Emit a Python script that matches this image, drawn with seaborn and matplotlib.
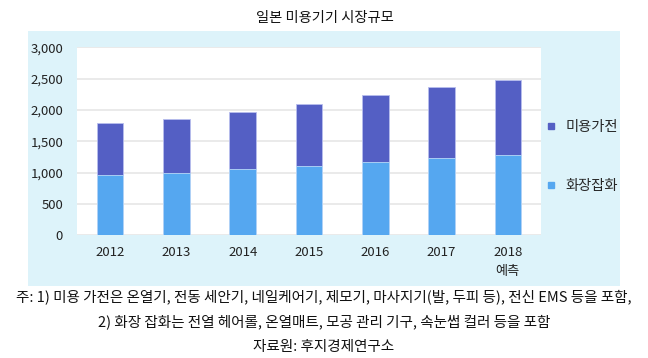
import matplotlib
matplotlib.use("Agg")
import matplotlib.pyplot as plt
from matplotlib.lines import Line2D
from matplotlib.patches import Rectangle
import seaborn as sns
import pandas as pd

years = ["2012", "2013", "2014", "2015", "2016", "2017", "2018"]
tick_labels = ["2012", "2013", "2014", "2015", "2016", "2017", "2018\n예측"]
cosmetics = [960, 1000, 1065, 1105, 1165, 1240, 1280]      # 화장잡화
appliances = [830, 860, 905, 995, 1075, 1130, 1200]        # 미용가전
series_names = ["미용가전", "화장잡화"]
title = "일본 미용기기 시장규모"
notes = [
    "주: 1) 미용 가전은 온열기, 전동 세안기, 네일케어기, 제모기, 마사지기(발, 두피 등), 전신 EMS 등을 포함,",
    "2) 화장 잡화는 전열 헤어롤, 온열매트, 모공 관리 기구, 속눈썹 컬러 등을 포함",
    "자료원: 후지경제연구소",
]

sns.set_style("white")
plt.rcParams["font.family"] = ["Noto Sans CJK KR", "DejaVu Sans"]

totals = [c + a for c, a in zip(cosmetics, appliances)]
df = pd.DataFrame({"year": years, "total": totals, "lower": cosmetics})

dark = "#545FC4"
light = "#55A7F0"
bg = "#DDF3FA"

fig = plt.figure(figsize=(6.48, 3.58), dpi=100)
W, H = 648, 358
fig.patches.append(Rectangle((28 / W, 1 - 286 / H), (620 - 28) / W, (286 - 31) / H,
                             transform=fig.transFigure, facecolor=bg, edgecolor="none", zorder=-10))

ax = fig.add_axes([77 / W, 1 - 235.3 / H, (541 - 77) / W, (235.3 - 47.3) / H])
ax.set_zorder(1)
ax.set_facecolor("white")

sns.barplot(data=df, x="year", y="total", color=dark, width=0.4, ax=ax,
            edgecolor="#B8BEEE", linewidth=0.6, saturation=1, zorder=3)
sns.barplot(data=df, x="year", y="lower", color=light, width=0.4, ax=ax,
            edgecolor="#B8D8F8", linewidth=0.6, saturation=1, zorder=4)

ax.set_ylim(0, 3000)
ax.set_xlim(-0.5, 6.5)
ax.set_yticks(range(0, 3001, 500))
ax.set_yticklabels([f"{v:,}" for v in range(0, 3001, 500)])
ax.set_xticks(range(len(years)))
ax.set_xticklabels(tick_labels, va="top", linespacing=1.6)
ax.set_xlabel("")
ax.set_ylabel("")
ax.grid(axis="y", color="#E6E6E6", linewidth=1.2, zorder=0)
ax.set_axisbelow(True)
for s in ax.spines.values():
    s.set_visible(False)
ax.tick_params(axis="both", length=0, labelsize=9.5, labelcolor="#222222")
ax.tick_params(axis="y", pad=10)
ax.tick_params(axis="x", pad=8)

handles = [Line2D([], [], marker="s", linestyle="none", markersize=5, color=dark),
           Line2D([], [], marker="s", linestyle="none", markersize=5, color=light)]
fig.legend(handles, series_names, loc="upper left", bbox_to_anchor=(540 / W, 1 - 114 / H),
           frameon=False, fontsize=10.3, labelspacing=3.2, handletextpad=0.6,
           handlelength=0.8, borderaxespad=0)

fig.text(325 / W, 1 - 18 / H, title, ha="center", va="center", fontsize=10.3, color="#111111")
ys = [297, 322, 347]
for t, y in zip(notes, ys):
    fig.text(324 / W, 1 - y / H, t, ha="center", va="center", fontsize=10.5, color="#111111")

fig.savefig("out.png", dpi=100, facecolor="white")
